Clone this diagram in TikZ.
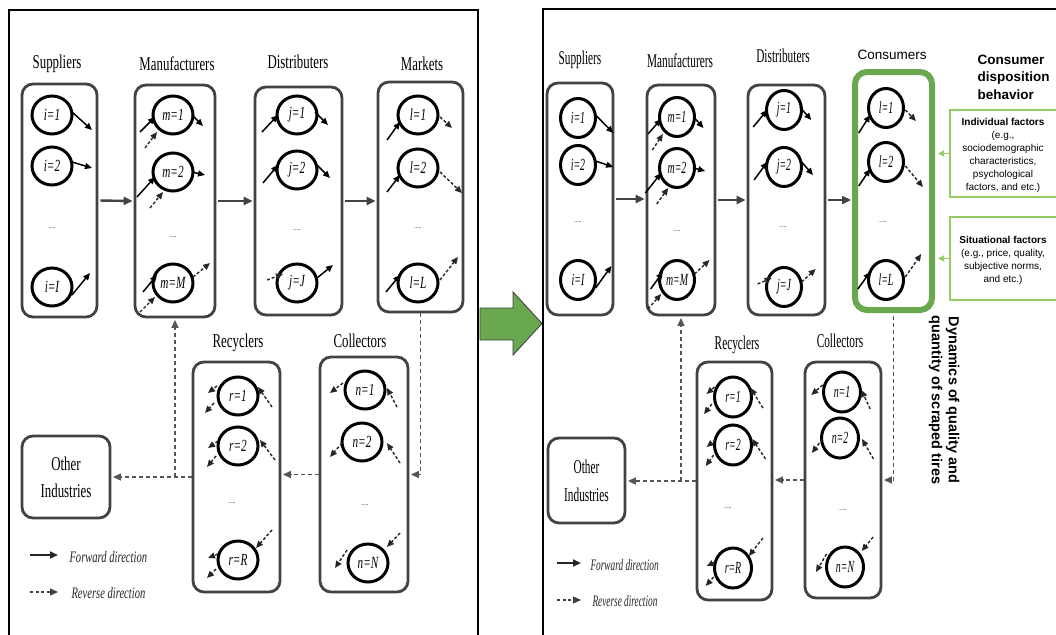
\documentclass[tikz,border=0pt]{standalone}
\usepackage{fontspec}
\usetikzlibrary{arrows.meta,shapes.geometric,calc}
\newfontfamily\tmsL[FakeStretch=0.66]{Liberation Serif}
\newfontfamily\tmsR[FakeStretch=0.58]{Liberation Serif}
\newfontfamily\arial{Liberation Sans}
\definecolor{grn}{RGB}{106,168,79}
\definecolor{lgrn}{RGB}{150,204,100}
\definecolor{edge}{RGB}{66,66,66}
\definecolor{dash}{RGB}{85,85,85}

% horizontal factor for the small in/out arrows of a unit
\newcommand\kx{1}
\newcommand\fa[5]{\draw[fsm] ($(#1)+({\kx*(#2)},#3)$) -- ($(#1)+({\kx*(#4)},#5)$);}
\newcommand\ra[5]{\draw[rsm] ($(#1)+({\kx*(#2)},#3)$) -- ($(#1)+({\kx*(#4)},#5)$);}

\tikzset{
  frame/.style={draw=black, line width=1.4pt},
  stage/.style={draw=edge, line width=2.8pt, rounded corners=11pt, inner sep=0pt},
  unitL/.style={ellipse, draw=black, line width=3pt, minimum width=40pt, minimum height=38pt,
    inner sep=0pt, font=\tmsL\itshape\fontsize{17}{17}\selectfont},
  unitR/.style={ellipse, draw=black, line width=3pt, minimum width=35pt, minimum height=39pt,
    inner sep=0pt, font=\tmsR\itshape\fontsize{17}{17}\selectfont},
  ttlL/.style={font=\tmsL\fontsize{19.5}{21}\selectfont},
  ttlR/.style={font=\tmsR\fontsize{19.5}{21}\selectfont},
  dots/.style={font=\tmsL\fontsize{9}{9}\selectfont, text=black!70},
  flow/.style={draw=edge, line width=2.4pt, -{Triangle[length=9pt,width=8pt]}, shorten >=1pt, shorten <=2pt},
  back/.style={draw=dash, line width=1.4pt, dash pattern=on 4pt off 3pt, -{Triangle[length=8pt,width=7pt]}, shorten >=1.5pt},
  fsm/.style={draw=black, line width=1.5pt, -{Triangle[length=7pt,width=6pt]}},
  rsm/.style={draw=black!85, line width=1.4pt, dash pattern=on 3pt off 2pt, -{Triangle[length=7pt,width=6pt]}},
  legf/.style={draw=black!85, line width=2pt, -{Triangle[length=8pt,width=7pt]}},
  legr/.style={draw=black!75, line width=1.3pt, dash pattern=on 3pt off 2.5pt, -{Triangle[length=8pt,width=7pt]}},
  legL/.style={anchor=west, font=\tmsL\itshape\fontsize{16}{16}\selectfont, text=black!85},
  legR/.style={anchor=west, font=\tmsR\itshape\fontsize{16}{16}\selectfont, text=black!85},
  fbox/.style={draw=lgrn, line width=1.2pt, inner sep=0pt},
  ftxt/.style={align=center, font=\arial\fontsize{10}{13}\selectfont},
  garr/.style={draw=lgrn, line width=1.4pt, -{Triangle[length=6pt,width=6pt]}, shorten >=3pt},
}

\begin{document}
\begin{tikzpicture}[x=1pt, y=-1pt]
\useasboundingbox (0,0) rectangle (1056,634);
\clip (0,0) rectangle (1056,634);
\fill[white] (0,0) rectangle (1056,634);

% ---------------- left chain: forward network ----------------
\draw[frame] (9,650) -- (9,10) -- (478,10) -- (478,650);

\node[ttlL] (tS) at (57,64) {Suppliers};
\node[ttlL] (tM) at (177,64) {Manufacturers};
\node[ttlL] (tD) at (298,62) {Distributers};
\node[ttlL] (tMk) at (422,64) {Markets};
\node[ttlL] (tR) at (238,343) {Recyclers};
\node[ttlL] (tC) at (360,341) {Collectors};

\node[stage, minimum width=75pt, minimum height=233pt] (S) at (59.5,200.5) {};
\node[stage, minimum width=80pt, minimum height=232pt] (M) at (175,201) {};
\node[stage, minimum width=87pt, minimum height=228pt] (D) at (298.5,201) {};
\node[stage, minimum width=85pt, minimum height=230pt] (Mk) at (420.5,197) {};
\node[stage, minimum width=87pt, minimum height=230pt] (R) at (236.5,477) {};
\node[stage, minimum width=88pt, minimum height=235pt] (C) at (364,474.5) {};
\node[stage, minimum width=88pt, minimum height=82pt, align=center,
      font=\tmsL\fontsize{19.5}{27}\selectfont] (O) at (66,477) {Other\\Industries};

\node[unitL] (i1) at (52,115) {i=1};
\node[unitL] (i2) at (52,166) {i=2};
\node[dots] (di) at (52,228) {.....};
\node[unitL] (iI) at (52,287) {i=I};

\node[unitL] (m1) at (173,115) {m=1};
\node[unitL] (m2) at (173,172) {m=2};
\node[dots] (dm) at (173,237) {.....};
\node[unitL] (mM) at (173,283) {m=M};

\node[unitL] (j1) at (297,115) {j=1};
\node[unitL] (j2) at (297,170) {j=2};
\node[dots] (dj) at (297,230) {.....};
\node[unitL] (jJ) at (297,283) {j=J};

\node[unitL] (l1) at (418,115) {l=1};
\node[unitL] (l2) at (418,168) {l=2};
\node[dots] (dl) at (418,228) {.....};
\node[unitL] (lL) at (418,283) {l=L};

\node[unitL] (r1) at (238,396) {r=1};
\node[unitL] (r2) at (238,446) {r=2};
\node[dots] (dr) at (232,503) {.....};
\node[unitL] (rR) at (238,560) {r=R};

\node[unitL] (n1) at (365,390) {n=1};
\node[unitL] (n2) at (362,442) {n=2};
\node[dots] (dn) at (365,505) {.....};
\node[unitL] (nN) at (368,563) {n=N};

% flows inside each stage
\fa{i1}{20}{-3}{40}{15}
\fa{i2}{20}{-4}{40}{2}
\fa{iI}{20}{8}{38}{-14}
\fa{m1}{-33}{17}{-18}{2} \ra{m1}{-28}{33}{-16}{17} \fa{m1}{19}{0}{30}{11}
\fa{m2}{-36}{25}{-18}{5} \ra{m2}{-23}{36}{-10}{20} \fa{m2}{19}{0}{32}{3}
\fa{mM}{-30}{9}{-16}{-8} \ra{mM}{-33}{29}{-18}{14} \ra{mM}{20}{-6}{37}{-20}
\fa{j1}{-35}{17}{-19}{0} \fa{j1}{18}{-3}{31}{10}
\fa{j2}{-34}{13}{-19}{-5} \fa{j2}{18}{-7}{33}{8}
\ra{jJ}{-30}{-3}{-14}{-9} \fa{jJ}{20}{-5}{36}{-18}
\fa{l1}{-31}{25}{-18}{7} \ra{l1}{22}{2}{34}{13}
\fa{l2}{-31}{24}{-18}{7} \ra{l2}{22}{4}{44}{25}
\fa{lL}{-32}{9}{-18}{-8} \ra{lL}{22}{-3}{40}{-26}
\ra{r1}{-21}{-10}{-30}{-3} \ra{r1}{-24}{7}{-33}{17} \ra{r1}{34}{11}{20}{-9}
\ra{r2}{-20}{-5}{-30}{2} \ra{r2}{-22}{10}{-31}{21} \ra{r2}{37}{14}{22}{-6}
\ra{rR}{-20}{-6}{-30}{-2} \ra{rR}{-22}{9}{-31}{18} \ra{rR}{34}{-30}{18}{-12}
\ra{n1}{-22}{-7}{-35}{3} \ra{n1}{32}{17}{22}{-2}
\ra{n2}{-20}{1}{-32}{15} \ra{n2}{38}{21}{25}{1}
\ra{nN}{-21}{-13}{-33}{5} \ra{nN}{32}{-30}{19}{-16}

% flows between stages
\draw[flow] (S.east) -- (M.west);
\draw[flow] (M.east) -- (D.west);
\draw[flow] (D.east) -- (D.east -| Mk.west);
\draw[back] (Mk.south) |- (C.east);
\draw[back] (C.west) -- (C.west -| R.east);
\draw[back] (R.west) -- (O.east);
\coordinate (jL) at (M.south |- R.west);
\draw[back] (jL) -- (M.south);

% legend
\coordinate (lfa) at (30,555); \coordinate (lfb) at (58,555);
\coordinate (lra) at (30,592); \coordinate (lrb) at (58,592);
\draw[legf] (lfa) -- (lfb);
\draw[legr] (lra) -- (lrb);
\node[legL] (lft) at (66,557) {Forward direction};
\node[legL] (lrt) at (68,593) {Reverse direction};

% ---------------- transition arrow ----------------
\draw[fill=grn, draw=black!75, line width=0.9pt]
  (480,308) -- (513,308) -- (513,292) -- (542,323.5) -- (513,355) -- (513,340) -- (480,340) -- cycle;

% ---------------- right chain: with consumer behaviour ----------------
\draw[frame] (543,650) -- (543,9) -- (1070,9);

\node[ttlR] (tS2) at (580,60) {Suppliers};
\node[ttlR] (tM2) at (680,61) {Manufacturers};
\node[ttlR] (tD2) at (783,56) {Distributers};
\node[font=\arial\fontsize{13.5}{15}\selectfont] (tCn) at (892,55) {Consumers};
\node[ttlR] (tR2) at (737,345) {Recyclers};
\node[ttlR] (tC2) at (840,341) {Collectors};

\node[stage, minimum width=66pt, minimum height=232pt] (S2) at (580,199) {};
\node[stage, minimum width=68pt, minimum height=230pt] (M2) at (681,200) {};
\node[stage, minimum width=77pt, minimum height=230pt] (D2) at (786.5,200) {};
\node[draw=grn, line width=6pt, rounded corners=12pt, inner sep=0pt,
      minimum width=77pt, minimum height=238pt] (Cn) at (893.5,191) {};
\node[stage, minimum width=75pt, minimum height=238pt] (R2) at (734.5,481) {};
\node[stage, minimum width=76pt, minimum height=236pt] (C2) at (843,480) {};
\node[stage, minimum width=77pt, minimum height=85pt, align=center,
      font=\tmsR\fontsize{19.5}{28}\selectfont] (O2) at (586.5,480.5) {Other\\Industries};

\node[unitR] (ri1) at (578,118) {i=1};
\node[unitR] (ri2) at (578,165) {i=2};
\node[dots] (rdi) at (578,222) {.....};
\node[unitR] (riI) at (578,280) {i=I};

\node[unitR] (rm1) at (677,117) {m=1};
\node[unitR] (rm2) at (677,168) {m=2};
\node[dots] (rdm) at (677,231) {.....};
\node[unitR] (rmM) at (677,280) {m=M};

\node[unitR] (rj1) at (784,110) {j=1};
\node[unitR] (rj2) at (784,167) {j=2};
\node[dots] (rdj) at (783,227) {.....};
\node[unitR] (rjJ) at (784,287) {j=J};

\node[unitR] (rl1) at (886,108) {l=1};
\node[unitR] (rl2) at (886,162) {l=2};
\node[dots] (rdl) at (883,222) {.....};
\node[unitR] (rlL) at (886,280) {l=L};

\node[unitR, minimum width=37pt, minimum height=40pt] (rr1) at (733,397) {r=1};
\node[unitR, minimum width=37pt, minimum height=40pt] (rr2) at (733,445) {r=2};
\node[dots] (rdr) at (728,508) {.....};
\node[unitR, minimum width=37pt, minimum height=40pt] (rrR) at (733,568) {r=R};

\node[unitR, minimum width=37pt, minimum height=40pt] (rn1) at (842,392) {n=1};
\node[unitR, minimum width=37pt, minimum height=40pt] (rn2) at (840,438) {n=2};
\node[dots] (rdn) at (843,510) {.....};
\node[unitR, minimum width=37pt, minimum height=40pt] (rnN) at (845,567) {n=N};

\renewcommand\kx{0.88}
\fa{ri1}{20}{-3}{40}{15}
\fa{ri2}{20}{-4}{40}{2}
\fa{riI}{20}{8}{38}{-14}
\fa{rm1}{-33}{17}{-18}{2} \ra{rm1}{-28}{33}{-16}{17} \fa{rm1}{19}{0}{30}{11}
\fa{rm2}{-36}{25}{-18}{5} \ra{rm2}{-23}{36}{-10}{20} \fa{rm2}{19}{0}{32}{3}
\fa{rmM}{-30}{9}{-16}{-8} \ra{rmM}{-33}{29}{-18}{14} \ra{rmM}{20}{-6}{37}{-20}
\fa{rj1}{-35}{17}{-19}{0} \fa{rj1}{18}{-3}{31}{10}
\fa{rj2}{-34}{13}{-19}{-5} \fa{rj2}{18}{-7}{33}{8}
\ra{rjJ}{-30}{-3}{-14}{-9} \ra{rjJ}{20}{-5}{36}{-18}
\fa{rl1}{-31}{25}{-18}{7} \ra{rl1}{22}{2}{34}{13}
\fa{rl2}{-31}{24}{-18}{7} \ra{rl2}{22}{4}{42}{25}
\fa{rlL}{-32}{9}{-18}{-8} \ra{rlL}{22}{-3}{40}{-26}
\ra{rr1}{-21}{-10}{-30}{-3} \ra{rr1}{-24}{7}{-33}{17} \ra{rr1}{34}{11}{20}{-9}
\ra{rr2}{-20}{-5}{-30}{2} \ra{rr2}{-22}{10}{-31}{21} \ra{rr2}{37}{14}{22}{-6}
\ra{rrR}{-20}{-6}{-30}{-2} \ra{rrR}{-22}{9}{-31}{18} \ra{rrR}{34}{-30}{18}{-12}
\ra{rn1}{-22}{-7}{-35}{3} \ra{rn1}{32}{17}{22}{-2}
\ra{rn2}{-20}{1}{-32}{15} \ra{rn2}{38}{21}{25}{1}
\ra{rnN}{-21}{-13}{-33}{5} \ra{rnN}{32}{-30}{19}{-16}

\draw[flow] (S2.east) -- (S2.east -| M2.west);
\draw[flow] (M2.east) -- (M2.east -| D2.west);
\draw[flow] (D2.east) -- (D2.east -| Cn.west);
\draw[back, shorten <=3pt] (Cn.south) |- (C2.east);
\draw[back] (C2.west) -- (C2.west -| R2.east);
\draw[back] (R2.west) -- (R2.west -| O2.east);
\coordinate (jR) at (M2.south |- R2.west);
\draw[back] (jR) -- (M2.south);

\coordinate (rfa) at (557,563); \coordinate (rfb) at (581,563);
\coordinate (rra) at (557,600); \coordinate (rrb) at (581,600);
\draw[legf] (rfa) -- (rfb);
\draw[legr] (rra) -- (rrb);
\node[legR] (rft) at (587,565) {Forward direction};
\node[legR] (rrt) at (589,601) {Reverse direction};

% consumer disposition behaviour
\node[anchor=west, align=left, font=\arial\bfseries\fontsize{13.5}{17.5}\selectfont] (cdb) at (974,77)
  {Consumer\\disposition\\behavior};
\node[fbox, minimum width=120pt, minimum height=87pt] (ind) at (1010,153.5) {};
\node[ftxt] (indt) at (1003,155)
  {\textbf{Individual factors}\\(e.g.,\\sociodemographic\\characteristics,\\psychological\\factors, and etc.)};
\node[fbox, minimum width=120pt, minimum height=83pt] (sit) at (1010,258.5) {};
\node[ftxt] (sitt) at (1003,260)
  {\textbf{Situational factors}\\(e.g., price, quality,\\subjective norms,\\and etc.)};
\draw[garr] (ind.west) -- (ind.west -| Cn.east);
\draw[garr] (sit.west) -- (sit.west -| Cn.east);

\node[rotate=-90, align=center, font=\arial\bfseries\fontsize{14.5}{17}\selectfont] (dyn) at (944,400)
  {Dynamics of quality and\\quantity of scraped tires};
\end{tikzpicture}
\end{document}
